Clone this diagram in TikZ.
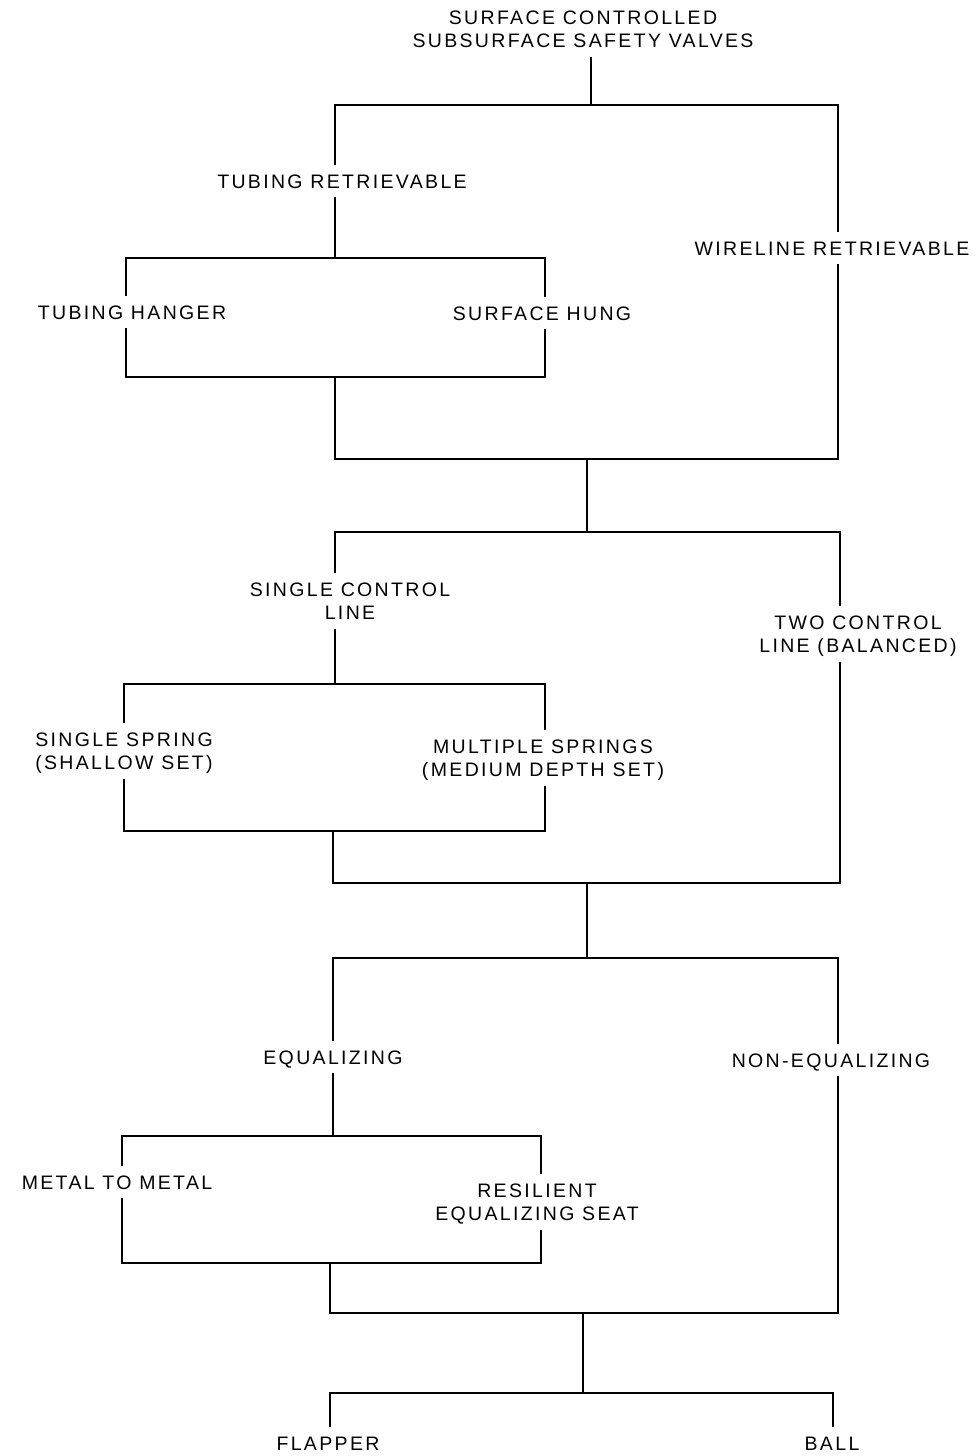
\documentclass[tikz,border=0pt]{standalone}
\usepackage{fontspec}
\newfontfamily\lblfont[LetterSpace=12]{Liberation Sans}
\newcommand\twol[2]{\begin{tabular}[b]{@{}c@{}}#1\\#2\end{tabular}}
\tikzset{
  lbl/.style={font=\lblfont\fontsize{19.5}{23}\selectfont, align=center,
    text height=14pt, text depth=0pt, inner xsep=0pt, inner ysep=10pt},
  lbltwo/.style={lbl, text height=37pt},
  wire/.style={line width=1.5pt, line cap=rect, line join=miter}
}
\begin{document}
\begin{tikzpicture}[x=1pt,y=-1pt]
\fill[white] (0,0) rectangle (977,1456);
\useasboundingbox (0,0) rectangle (977,1456);

% ---------- labels ----------
\node[lbltwo] (title) at (583,29)   {\twol{SURFACE CONTROLLED}{SUBSURFACE SAFETY VALVES}};
\node[lbl]    (tr)    at (342,181)  {TUBING RETRIEVABLE};
\node[lbl]    (wr)    at (832,248)  {WIRELINE RETRIEVABLE};
\node[lbl]    (th)    at (132,312)  {TUBING HANGER};
\node[lbl]    (sh)    at (542,313)  {SURFACE HUNG};
\node[lbltwo] (scl)   at (350,601)  {\twol{SINGLE CONTROL}{LINE}};
\node[lbltwo] (tcl)   at (858,634)  {\twol{TWO CONTROL}{LINE (BALANCED)}};
\node[lbltwo] (ss)    at (124,751)  {\twol{SINGLE SPRING}{(SHALLOW SET)}};
\node[lbltwo] (ms)    at (543,758)  {\twol{MULTIPLE SPRINGS}{(MEDIUM DEPTH SET)}};
\node[lbl]    (eq)    at (333,1057) {EQUALIZING};
\node[lbl]    (neq)   at (831,1060) {NON-EQUALIZING};
\node[lbl]    (mm)    at (117,1182) {METAL TO METAL};
\node[lbltwo] (res)   at (537,1202) {\twol{RESILIENT}{EQUALIZING SEAT}};
\node[lbl]    (fl)    at (328,1443) {FLAPPER};
\node[lbl]    (ball)  at (832,1443) {BALL};

% ---------- junction points ----------
% retrievability
\coordinate (a0) at (591,105);
\coordinate (aL) at (335,105);  \coordinate (aR) at (838,105);
\coordinate (bL) at (126,258);  \coordinate (bR) at (545,258);
\coordinate (bbL) at (126,377); \coordinate (bbR) at (545,377);
\coordinate (abL) at (335,459); \coordinate (abR) at (838,459);
\coordinate (a1) at (587,459);
% control lines
\coordinate (c0) at (587,532);
\coordinate (cL) at (335,532);  \coordinate (cR) at (840,532);
\coordinate (dL) at (124,684);  \coordinate (dR) at (545,684);
\coordinate (ddL) at (124,831); \coordinate (ddR) at (545,831);
\coordinate (cbL) at (333,883); \coordinate (cbR) at (840,883);
\coordinate (c1) at (587,883);
% equalizing
\coordinate (e0) at (587,958);
\coordinate (eL) at (333,958);  \coordinate (eR) at (838,958);
\coordinate (fL) at (122,1136); \coordinate (fR) at (541,1136);
\coordinate (ffL) at (122,1263); \coordinate (ffR) at (541,1263);
\coordinate (ebL) at (330,1313); \coordinate (ebR) at (838,1313);
\coordinate (e1) at (583,1313);
% closure type
\coordinate (g0) at (583,1393);
\coordinate (gL) at (330,1393); \coordinate (gR) at (833,1393);

% ---------- connectors ----------
\draw[wire] (title.south -| a0) -- (a0);
\draw[wire] (tr.north -| aL) |- (aR) -- (wr.north -| aR);
\draw[wire] (tr.south -| aL) -- (aL |- bL);
\draw[wire] (th.north -| bL) |- (bR) -- (sh.north -| bR);
\draw[wire] (th.south -| bL) |- (bbR) -- (sh.south -| bR);
\draw[wire] (aL |- bbL) -- (abL) -- (abR) -- (wr.south -| aR);
\draw[wire] (a1) -- (c0);

\draw[wire] (scl.north -| cL) |- (cR) -- (tcl.north -| cR);
\draw[wire] (scl.south -| cL) -- (cL |- dL);
\draw[wire] (ss.north -| dL) |- (dR) -- (ms.north -| dR);
\draw[wire] (ss.south -| dL) |- (ddR) -- (ms.south -| dR);
\draw[wire] (cbL |- ddL) -- (cbL) -- (cbR) -- (tcl.south -| cR);
\draw[wire] (c1) -- (e0);

\draw[wire] (eq.north -| eL) |- (eR) -- (neq.north -| eR);
\draw[wire] (eq.south -| eL) -- (eL |- fL);
\draw[wire] (mm.north -| fL) |- (fR) -- (res.north -| fR);
\draw[wire] (mm.south -| fL) |- (ffR) -- (res.south -| fR);
\draw[wire] (ebL |- ffL) -- (ebL) -- (ebR) -- (neq.south -| eR);
\draw[wire] (e1) -- (g0);

\draw[wire] (fl.north -| gL) |- (gR) -- (ball.north -| gR);
\end{tikzpicture}
\end{document}
